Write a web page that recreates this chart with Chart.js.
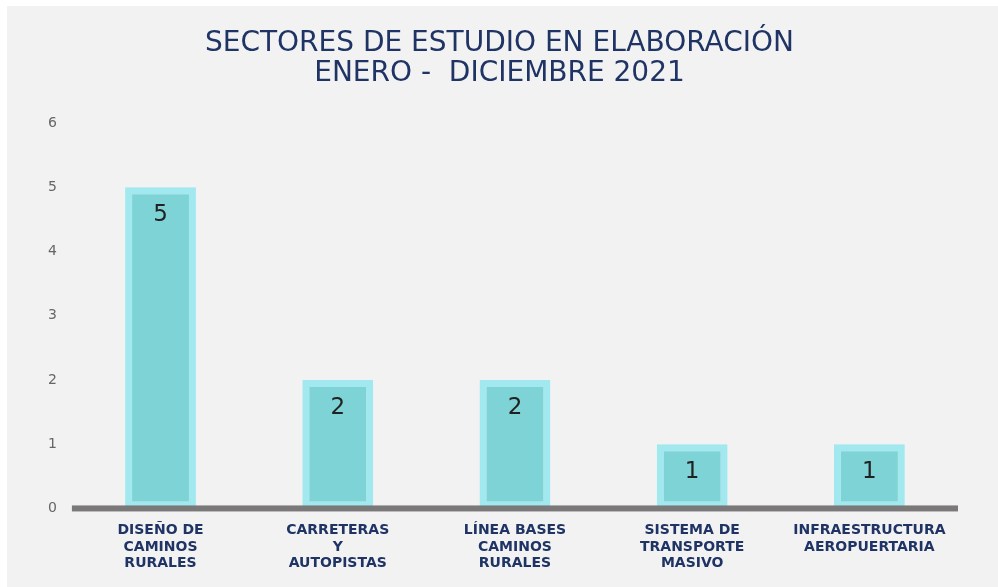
<!DOCTYPE html>
<html>
<head>
<meta charset="utf-8">
<script src="https://cdn.jsdelivr.net/npm/chart.js@4"></script>
<style>
    html, body { margin: 0; padding: 0; background: #ffffff; }
    .wrap {
        position: absolute;
        left: 7px;
        top: 6px;
        width: 991px;
        height: 581px;
        background: #f2f2f2;
    }
</style>
</head>
<body>
<div class="wrap"><canvas id="sectorChart" width="991" height="581"></canvas></div>
<script>
const categories = [
    ['DISEÑO DE', 'CAMINOS', 'RURALES'],
    ['CARRETERAS', 'Y', 'AUTOPISTAS'],
    ['LÍNEA BASES', 'CAMINOS', 'RURALES'],
    ['SISTEMA DE', 'TRANSPORTE', 'MASIVO'],
    ['INFRAESTRUCTURA', 'AEROPUERTARIA'],
];
const studies = [5, 2, 2, 1, 1];
const titleLines = ['SECTORES DE ESTUDIO EN ELABORACIÓN', 'ENERO -  DICIEMBRE 2021'];

const navy = '#1f3464';

// thick grey base line drawn over the bars, plus value labels inside the bars
const baseAndLabels = {
    id: 'baseAndLabels',
    afterDatasetsDraw(chart) {
        const ctx = chart.ctx;
        const area = chart.chartArea;
        const y0 = chart.scales.y.getPixelForValue(0);
        ctx.save();
        ctx.fillStyle = '#7a7878';
        ctx.fillRect(area.left, y0 - 3, area.right - area.left, 6);

        const meta = chart.getDatasetMeta(0);
        ctx.fillStyle = '#222222';
        ctx.font = '23px "DejaVu Sans"';
        ctx.textAlign = 'center';
        ctx.textBaseline = 'middle';
        meta.data.forEach((bar, i) => {
            ctx.fillText(studies[i], bar.x, bar.y + 28);
        });
        ctx.restore();
    },
};

const ctx = document.getElementById('sectorChart');
new Chart(ctx, {
    type: 'bar',
    data: {
        labels: categories,
        datasets: [
            {
                data: studies,
                backgroundColor: '#7dd3d5',
                borderColor: '#a2e9ef',
                borderWidth: 7,
                borderSkipped: false,
                categoryPercentage: 1,
                barPercentage: 0.4,
            },
        ],
    },
    options: {
        responsive: false,
        animation: false,
        layout: {
            padding: { left: 34, right: 40, top: 0, bottom: 9 },
        },
        plugins: {
            legend: { display: false },
            tooltip: { enabled: false },
            title: {
                display: true,
                text: titleLines,
                color: navy,
                font: { family: 'DejaVu Sans', size: 28, weight: 'normal', lineHeight: 1.07 },
                padding: { top: 23, bottom: 34 },
            },
        },
        scales: {
            x: {
                grid: { display: false },
                border: { display: false },
                ticks: {
                    color: navy,
                    font: { family: 'DejaVu Sans', size: 14, weight: 'bold', lineHeight: 1.18 },
                    maxRotation: 0,
                    autoSkip: false,
                    padding: 6,
                },
            },
            y: {
                min: 0,
                max: 6,
                grid: { display: false },
                border: { display: false },
                ticks: {
                    stepSize: 1,
                    color: '#666666',
                    font: { family: 'DejaVu Sans', size: 14 },
                    padding: 7,
                },
            },
        },
    },
    plugins: [baseAndLabels],
});
</script>
</body>
</html>
